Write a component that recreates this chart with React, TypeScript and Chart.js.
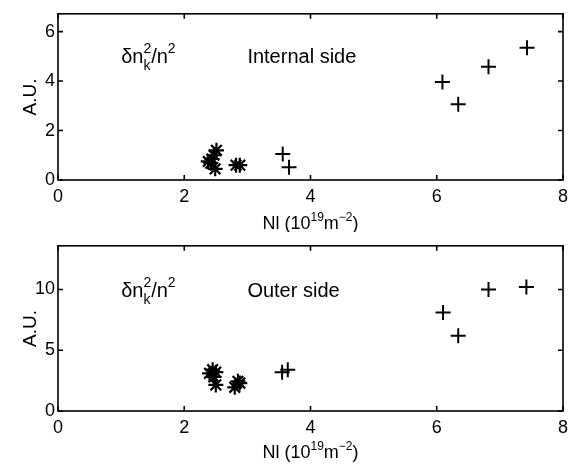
import React, { useEffect, useRef } from "react";
import { Chart, registerables } from "chart.js";
Chart.register(...registerables);

// ---------- data ----------
const xMin = 0;
const xMax = 8;
const xTickValues = [0, 2, 4, 6, 8];

const topYMax = 6.72;
const topYTickValues = [0, 2, 4, 6];
const bottomYMax = 13.6;
const bottomYTickValues = [0, 5, 10];

// Internal side
const internalPlusX = [3.56, 3.66, 6.09, 6.34, 6.82, 7.43];
const internalPlusY = [1.05, 0.52, 3.96, 3.06, 4.58, 5.35];
const internalStarX = [2.51, 2.47, 2.44, 2.38, 2.42, 2.49, 2.82, 2.88];
const internalStarY = [1.2, 1.0, 0.85, 0.75, 0.68, 0.45, 0.6, 0.6];

// Outer side
const outerPlusX = [3.55, 3.64, 6.1, 6.34, 6.82, 7.42];
const outerPlusY = [3.2, 3.4, 8.1, 6.2, 10.0, 10.2];
const outerStarX = [2.45, 2.4, 2.5, 2.47, 2.5, 2.85, 2.8, 2.88];
const outerStarY = [3.4, 3.1, 3.2, 2.8, 2.15, 2.45, 1.95, 2.3];

const topLabel = "Internal side";
const bottomLabel = "Outer side";
const yTitle = "A.U.";

const FONT = "'Liberation Sans', Arial, Helvetica, sans-serif";

type Seg = { t: string; size: number; dy: number; stackWithNext?: boolean };

function drawRich(ctx: CanvasRenderingContext2D, segs: Seg[], x: number, y: number, align: "left" | "center") {
  const widths: number[] = [];
  let total = 0;
  for (let i = 0; i < segs.length; i++) {
    ctx.font = `${segs[i].size}px ${FONT}`;
    widths.push(ctx.measureText(segs[i].t).width);
  }
  for (let i = 0; i < segs.length; i++) {
    if (segs[i].stackWithNext) {
      total += Math.max(widths[i], widths[i + 1]);
      i++;
    } else total += widths[i];
  }
  let cx = align === "center" ? x - total / 2 : x;
  ctx.textAlign = "left";
  ctx.textBaseline = "alphabetic";
  ctx.fillStyle = "#000";
  for (let i = 0; i < segs.length; i++) {
    const s = segs[i];
    ctx.font = `${s.size}px ${FONT}`;
    ctx.fillText(s.t, cx, y + s.dy);
    if (s.stackWithNext) {
      const n = segs[i + 1];
      ctx.font = `${n.size}px ${FONT}`;
      ctx.fillText(n.t, cx, y + n.dy);
      cx += Math.max(widths[i], widths[i + 1]);
      i++;
    } else cx += widths[i];
  }
}

const framePlugin = {
  id: "frame",
  afterDraw(chart: any) {
    const { ctx, chartArea: a, scales } = chart;
    const xs = scales.x;
    const ys = scales.y;
    const label: string = chart.options.plugins.frame.label;
    const titleBaseline: number = chart.options.plugins.frame.titleBaseline;
    const textY: number = chart.options.plugins.frame.textY;
    ctx.save();
    ctx.strokeStyle = "#000";
    ctx.lineWidth = 1.6;
    ctx.strokeRect(a.left, a.top, a.right - a.left, a.bottom - a.top);
    const tl = 5;
    ctx.beginPath();
    xs.ticks.forEach((t: any) => {
      const px = xs.getPixelForValue(t.value);
      ctx.moveTo(px, a.bottom);
      ctx.lineTo(px, a.bottom - tl);
      ctx.moveTo(px, a.top);
      ctx.lineTo(px, a.top + tl);
    });
    ys.ticks.forEach((t: any) => {
      const py = ys.getPixelForValue(t.value);
      ctx.moveTo(a.left, py);
      ctx.lineTo(a.left + tl, py);
      ctx.moveTo(a.right, py);
      ctx.lineTo(a.right - tl, py);
    });
    ctx.stroke();

    // x title
    drawRich(
      ctx,
      [
        { t: "Nl (10", size: 18, dy: 0 },
        { t: "19", size: 12, dy: -8 },
        { t: "m", size: 18, dy: 0 },
        { t: "\u22122", size: 12, dy: -8 },
        { t: ")", size: 18, dy: 0 },
      ],
      (a.left + a.right) / 2,
      titleBaseline,
      "center"
    );

    // y title
    ctx.save();
    ctx.translate(31, (a.top + a.bottom) / 2);
    ctx.rotate(-Math.PI / 2);
    ctx.font = `19px ${FONT}`;
    ctx.fillStyle = "#000";
    ctx.textAlign = "center";
    ctx.textBaseline = "middle";
    ctx.fillText(yTitle, 0, 0);
    ctx.restore();

    // annotations
    const ty = ys.getPixelForValue(textY) + 7;
    drawRich(
      ctx,
      [
        { t: "\u03b4n", size: 20, dy: 0 },
        { t: "2", size: 14, dy: -10, stackWithNext: true },
        { t: "k", size: 14, dy: 7 },
        { t: "/n", size: 20, dy: 0 },
        { t: "2", size: 14, dy: -10 },
      ],
      xs.getPixelForValue(1.0),
      ty,
      "left"
    );
    ctx.font = `20px ${FONT}`;
    ctx.textAlign = "left";
    ctx.textBaseline = "alphabetic";
    ctx.fillText(label, xs.getPixelForValue(3.0), ty);
    ctx.restore();
  },
};

function makeConfig(
  plusX: number[],
  plusY: number[],
  starX: number[],
  starY: number[],
  yMax: number,
  yTickValues: number[],
  label: string,
  padTop: number,
  xAxisHeight: number,
  titleBaseline: number,
  textY: number
): any {
  return {
    type: "scatter",
    data: {
      datasets: [
        {
          data: plusX.map((x, i) => ({ x, y: plusY[i] })),
          pointStyle: "cross",
          pointRadius: 7.5,
          borderColor: "#000",
          backgroundColor: "#000",
          borderWidth: 2,
        },
        {
          data: starX.map((x, i) => ({ x, y: starY[i] })),
          pointStyle: "star",
          pointRadius: 7.5,
          borderColor: "#000",
          backgroundColor: "#000",
          borderWidth: 2.2,
        },
      ],
    },
    options: {
      responsive: false,
      animation: false,
      devicePixelRatio: 1,
      layout: { padding: { top: padTop, right: 14, left: 0, bottom: 0 } },
      plugins: {
        legend: { display: false },
        tooltip: { enabled: false },
        frame: { label, titleBaseline, textY },
      },
      scales: {
        x: {
          type: "linear",
          min: xMin,
          max: xMax,
          grid: { display: false, drawTicks: false },
          border: { display: false },
          afterBuildTicks: (s: any) => {
            s.ticks = xTickValues.map((v) => ({ value: v }));
          },
          ticks: {
            color: "#000",
            font: { family: FONT, size: 18 },
            padding: 6,
            maxRotation: 0,
          },
          afterFit: (s: any) => {
            s.height = xAxisHeight;
          },
        },
        y: {
          type: "linear",
          min: 0,
          max: yMax,
          grid: { display: false, drawTicks: false },
          border: { display: false },
          afterBuildTicks: (s: any) => {
            s.ticks = yTickValues.map((v) => ({ value: v }));
          },
          ticks: {
            color: "#000",
            font: { family: FONT, size: 18 },
            padding: 3,
          },
          afterFit: (s: any) => {
            s.width = 58;
          },
        },
      },
    },
    plugins: [framePlugin],
  };
}

function Panel(props: { cfg: any; width: number; height: number }) {
  const ref = useRef<HTMLCanvasElement | null>(null);
  useEffect(() => {
    if (!ref.current) return;
    const chart = new Chart(ref.current, props.cfg);
    return () => chart.destroy();
  }, []);
  return <canvas ref={ref} width={props.width} height={props.height} style={{ display: "block" }} />;
}

export default function App() {
  const topCfg = makeConfig(
    internalPlusX, internalPlusY, internalStarX, internalStarY,
    topYMax, topYTickValues, topLabel, 12, 52, 229, 5
  );
  const bottomCfg = makeConfig(
    outerPlusX, outerPlusY, outerStarX, outerStarY,
    bottomYMax, bottomYTickValues, bottomLabel, 11, 54, 226, 10
  );
  return (
    <div style={{ position: "absolute", left: 0, top: 0, width: 577, height: 465, background: "#fff" }}>
      <Panel cfg={topCfg} width={577} height={232} />
      <Panel cfg={bottomCfg} width={577} height={233} />
    </div>
  );
}
